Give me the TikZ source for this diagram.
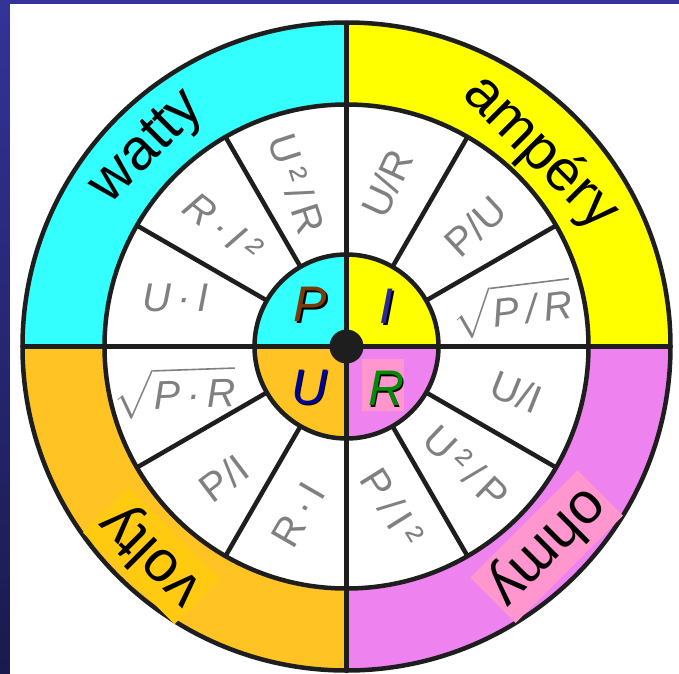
\documentclass[tikz,border=0pt]{standalone}
\usepackage{fontspec}
\setmainfont{Liberation Sans}
\usepackage{amssymb,amsmath}
\usetikzlibrary{positioning, calc}

\definecolor{wattcyan}{RGB}{51,255,255}
\definecolor{ampyellow}{RGB}{255,255,0}
\definecolor{voltorange}{RGB}{255,195,35}
\definecolor{ohmviolet}{RGB}{238,130,238}
\definecolor{ohmpink}{RGB}{255,150,205}
\definecolor{voltpatch}{RGB}{255,202,15}
\definecolor{frameblue}{RGB}{51,51,153}
\definecolor{framedark}{RGB}{26,26,77}
\definecolor{formgray}{RGB}{128,128,128}
\definecolor{linedark}{RGB}{30,30,30}
\definecolor{pbrown}{RGB}{120,60,10}
\definecolor{iblue}{RGB}{40,40,160}
\definecolor{ublue}{RGB}{0,0,150}
\definecolor{rgreen}{RGB}{0,140,0}

\begin{document}
\begin{tikzpicture}[x=1pt, y=1pt,
    formula/.style={text=formgray, font=\fontsize{40}{40}\selectfont, inner sep=1pt},
    bandlabel/.style={font=\fontsize{58}{58}\selectfont, inner sep=5pt},
    letter/.style={font=\fontsize{50}{50}\selectfont\itshape, inner sep=3pt},
    ring/.style={line width=4.5pt, draw=linedark}]
    % page and frame
    \fill[white] (-346.5,-326.5) rectangle (332.5,346.5);
    \useasboundingbox (-346.5,-326.5) rectangle (332.5,346.5);
    \shade[top color=frameblue, bottom color=framedark] (-346.5,-326.5) rectangle (-336.5,346.5);
    \fill[frameblue] (-346.5,342.5) rectangle (332.5,346.5);

    % outer band
    \fill[wattcyan] (0,0) -- (-324,0) arc[start angle=180, end angle=90, radius=324] -- cycle;
    \fill[ampyellow] (0,0) -- (0,324) arc[start angle=90, end angle=0, radius=324] -- cycle;
    \fill[ohmviolet] (0,0) -- (324,0) arc[start angle=0, end angle=-90, radius=324] -- cycle;
    \fill[voltorange] (0,0) -- (0,-324) arc[start angle=-90, end angle=-180, radius=324] -- cycle;
    \fill[white] (0,0) circle[radius=242];

    % inner disc
    \fill[wattcyan] (0,0) -- (-92,0) arc[start angle=180, end angle=90, radius=92] -- cycle;
    \fill[ampyellow] (0,0) -- (0,92) arc[start angle=90, end angle=0, radius=92] -- cycle;
    \fill[ohmviolet] (0,0) -- (92,0) arc[start angle=0, end angle=-90, radius=92] -- cycle;
    \fill[voltorange] (0,0) -- (0,-92) arc[start angle=-90, end angle=-180, radius=92] -- cycle;

    % lines
    \draw[ring] (0,0) circle[radius=324];
    \draw[ring] (0,0) circle[radius=242];
    \draw[ring] (0,0) circle[radius=92];
    \draw[ring] (-324,0) -- (324,0);
    \draw[ring] (0,-324) -- (0,324);
    \foreach \a in {30,60,120,150,210,240,300,330}
        \draw[ring] (\a:92) -- (\a:242);
    \fill[linedark] (0,0) circle[radius=17];

    % quantities
    \node[letter, text=black] at (-34.5,40.5) {P};
    \node[letter, text=pbrown] (pp) at (-36,42) {P};
    \node[letter, text=black] at (41.5,38.5) {I};
    \node[letter, text=iblue] (ii) at (40,40) {I};
    \node[letter, text=black] at (-35.5,-42.5) {U};
    \node[letter, text=ublue] (uu) at (-37,-41) {U};
    \node[letter, fill=ohmpink, minimum width=42pt, minimum height=52pt] (rpatch) at (36,-38) {};
    \node[letter, text=black] at (41.5,-43.5) {R};
    \node[letter, text=rgreen] (rr) at (40,-42) {R};

    % formulas
    \node[formula] (ui) at (164:178) {\itshape U\,·\,I};
    \node[formula, rotate=-38] (ri2) at (136:172) {\itshape R\,·\,I\,²};
    \node[formula, rotate=-72] (u2r) at (107:170) {U\,²\,/\,R};
    \node[formula, rotate=65] (ur) at (76:168) {U/R};
    \node[formula, rotate=43] (pu) at (43:176) {P/U};
    \node[formula, rotate=7] (sqpr) at (13:170) {$\sqrt{\mbox{\itshape P\,/\,R}}$};
    \node[formula, rotate=-22] (uoi) at (-15:176) {U/I};
    \node[formula, rotate=-44] (u2p) at (-45:170) {U\,²\,/\,P};
    \node[formula, rotate=-58] (pi2) at (-74:167) {P\,/\,I\,²};
    \node[formula, rotate=60] (rdi) at (-106:175) {R\,·\,I};
    \node[formula, rotate=37] (poi) at (-133:180) {P/I};
    \node[formula, rotate=2] (sqpdr) at (-165:178) {$\sqrt{\mbox{\itshape P\,·\,R}}$};

    % units
    \node[bandlabel, rotate=45] (watts) at (135:280) {watty};
    \node[bandlabel, rotate=-45] (amps) at (45:274) {ampéry};
    \node[bandlabel, rotate=-135, fill=ohmpink] (ohms) at (-45:283) {ohmy};
    \node[bandlabel, rotate=135, fill=voltpatch] (volts) at (-133:286) {volty};
\end{tikzpicture}
\end{document}
